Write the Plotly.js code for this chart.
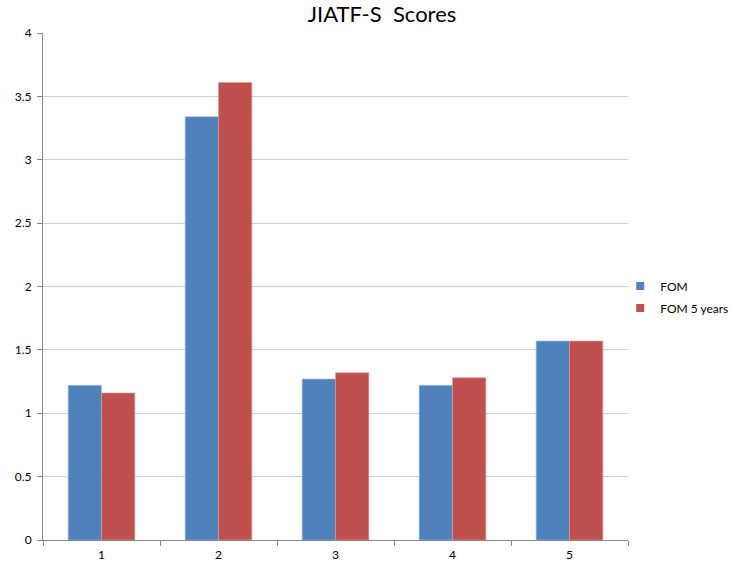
<!DOCTYPE html>
<html>
<head>
<meta charset="utf-8">
<script src="https://cdn.plot.ly/plotly-3.0.1.min.js"></script>
<style>html,body{margin:0;padding:0;background:#fff;}#chart{width:730px;height:567px;}</style>
</head>
<body>
<div id="chart"></div>
<script>
const categories = ["1", "2", "3", "4", "5"];
const fomValues = [1.22, 3.34, 1.27, 1.22, 1.57];
const fom5Values = [1.16, 3.61, 1.32, 1.28, 1.57];
const yTickVals = [0, 0.5, 1, 1.5, 2, 2.5, 3, 3.5, 4];
const yTickText = ["0", "0.5", "1", "1.5", "2", "2.5", "3", "3.5", "4"];
const seriesNames = ["FOM", "FOM 5 years"];
const seriesColors = ["#4f81bd", "#c0504d"];

const font = "Lato, 'Liberation Sans', sans-serif";

const traces = [
  {type: "bar", name: seriesNames[0], x: categories, y: fomValues, showlegend: false,
   marker: {color: seriesColors[0], line: {color: "#a9bedd", width: 0.6}}},
  {type: "bar", name: seriesNames[1], x: categories, y: fom5Values, showlegend: false,
   marker: {color: seriesColors[1], line: {color: "#dc9e9c", width: 0.6}}},
  // legend-only entries with small square swatches
  {type: "scatter", mode: "markers", name: seriesNames[0], x: [null], y: [null], legendgroup: "a",
   marker: {symbol: "square", size: 8, color: seriesColors[0]}},
  {type: "scatter", mode: "markers", name: seriesNames[1], x: [null], y: [null], legendgroup: "b",
   marker: {symbol: "square", size: 8, color: seriesColors[1]}}
];

const layout = {
  width: 730, height: 567,
  margin: {l: 43, r: 102, t: 33, b: 27, autoexpand: false},
  paper_bgcolor: "#fff", plot_bgcolor: "#fff",
  font: {family: font, size: 12, color: "#000"},
  title: {text: "JIATF-S  Scores", font: {family: font, size: 22, color: "#000"},
          x: 0.5795, xref: "paper", xanchor: "center", y: 0.974, yref: "container", yanchor: "middle"},
  barmode: "group", bargap: 0.43, bargroupgap: 0,
  xaxis: {type: "category", showgrid: false, showline: true, linecolor: "#868686", linewidth: 1,
          ticks: "outside", tickson: "boundaries", ticklen: 5, tickcolor: "#868686",
          ticklabelstandoff: 4,
          tickfont: {size: 12, family: font, color: "#000"}, zeroline: false, fixedrange: true},
  yaxis: {range: [0, 4], tickvals: yTickVals, ticktext: yTickText, showgrid: true,
          gridcolor: "#c3d1ea", gridwidth: 1, showline: true, linecolor: "#868686", linewidth: 1,
          ticks: "outside", ticklen: 5, tickcolor: "#868686", zeroline: false,
          ticklabelstandoff: 3,
          tickfont: {size: 12, family: font, color: "#000"}, fixedrange: true},
  showlegend: true,
  legend: {xref: "container", x: 0.8496, xanchor: "left", yref: "container", y: 0.476, yanchor: "middle",
           font: {size: 12, family: font, color: "#000"},
           itemwidth: 30, tracegroupgap: 3, bgcolor: "rgba(0,0,0,0)"}
};

Plotly.newPlot("chart", traces, layout, {displayModeBar: false, staticPlot: true});
</script>
</body>
</html>
